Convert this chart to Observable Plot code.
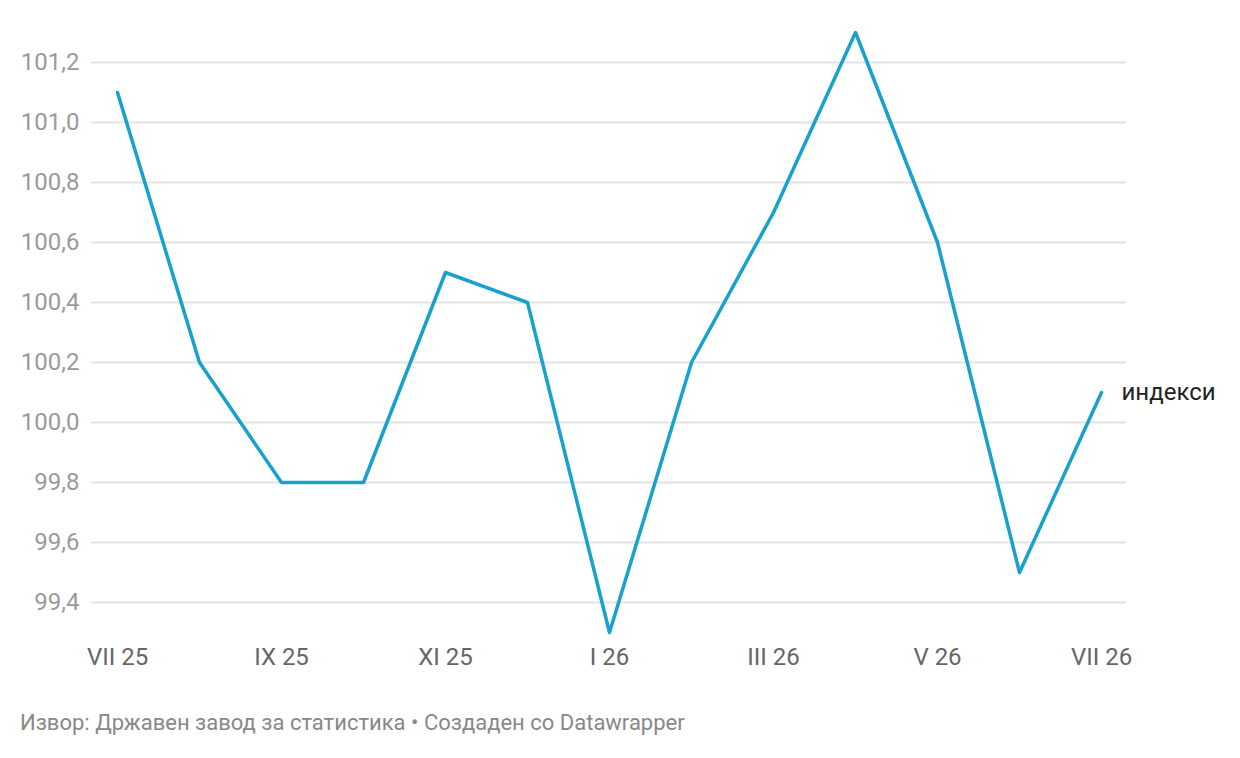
<!DOCTYPE html>
<html><head><meta charset="utf-8">
<script src="https://cdn.jsdelivr.net/npm/d3@7"></script>
<script src="https://cdn.jsdelivr.net/npm/@observablehq/plot@0.6"></script>
<style>
body{margin:0;background:#fff;font-family:Roboto,sans-serif;}
#wrap{position:relative;width:1240px;height:758px;}
#caption{position:absolute;left:20px;top:710px;font-size:22px;color:#888;font-family:Roboto,sans-serif;}
</style></head><body>
<div id="wrap"><div id="chart"></div><div id="caption">Извор: Државен завод за статистика • Создаден со Datawrapper</div></div>
<script>
const months = ["VII 25","VIII 25","IX 25","X 25","XI 25","XII 25","I 26","II 26","III 26","IV 26","V 26","VI 26","VII 26"];
const values = [101.1,100.2,99.8,99.8,100.5,100.4,99.3,100.2,100.7,101.3,100.6,99.5,100.1];
const xTicks = ["VII 25","IX 25","XI 25","I 26","III 26","V 26","VII 26"];
const yTicks = [99.4,99.6,99.8,100.0,100.2,100.4,100.6,100.8,101.0,101.2];
const seriesName = "индекси";
const data = months.map((m,i)=>({month:m,value:values[i]}));
const fmt = v => d3.format(".1f")(v).replace(".", ",");
const chart = Plot.plot({
  width:1240, height:680,
  marginLeft:91, marginRight:114, marginTop:32, marginBottom:48,
  style:{fontFamily:"Roboto, sans-serif", background:"#fff"},
  x:{type:"point", domain:months, insetLeft:20, insetRight:20, padding:0},
  y:{domain:[99.3,101.3]},
  marks:[
    Plot.gridY(yTicks,{stroke:"#e3e3e3", strokeOpacity:1, strokeWidth:2}),
    Plot.axisY(yTicks,{tickSize:0, tickPadding:12, tickFormat:fmt, fontSize:24, fill:"#9a9a9a", label:null}),
    Plot.axisX(xTicks,{tickSize:0, tickPadding:15, fontSize:24, fill:"#666", label:null}),
    Plot.line(data,{x:"month", y:"value", stroke:"#18a1cd", strokeWidth:3.5}),
    Plot.text(data.slice(-1),{x:"month", y:"value", text:()=>seriesName, dx:20, textAnchor:"start", fontSize:24, fill:"#222"})
  ]
});
document.getElementById("chart").appendChild(chart);
</script>
</body></html>
